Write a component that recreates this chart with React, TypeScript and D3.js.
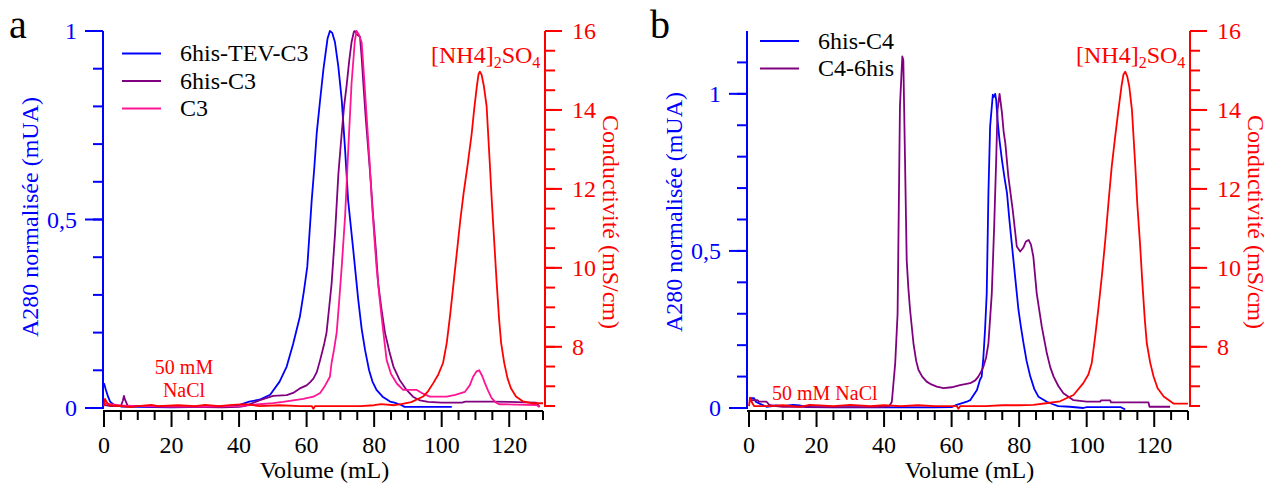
import React, { useEffect } from 'react';
import * as d3 from 'd3';

// ---------- DATA ----------
const volumeTicks = [0, 20, 40, 60, 80, 100, 120];
const condTicks = [8, 10, 12, 14, 16];
const absTickLabels = ['0', '0,5', '1'];
const absTicks = [0, 0.5, 1];

// Panel a : [volume mL, normalized A280]
const aTevC3: [number, number][] = [
  [0, 0.066], [0.5, 0.05], [1.2, 0.03], [1.8, 0.017], [3, 0.008], [5, 0.004], [10, 0.003], [20, 0.002],
  [30, 0.003], [38, 0.004], [40, 0.008], [43, 0.017], [46, 0.022], [49.2, 0.035], [52, 0.07], [54.1, 0.11],
  [56, 0.17], [58, 0.242], [59.2, 0.31], [60.2, 0.375], [61.5, 0.55], [62.3, 0.64], [63, 0.73], [64, 0.817],
  [65, 0.9], [66.2, 0.98], [66.9, 1.0], [67.6, 0.995], [68.4, 0.97], [69.4, 0.905], [70.4, 0.817],
  [71.4, 0.684], [72.3, 0.55], [73.8, 0.42], [75.3, 0.286], [76.3, 0.21], [77.3, 0.154], [78.5, 0.1],
  [79.5, 0.07], [80.7, 0.048], [82.5, 0.03], [84.7, 0.017], [86, 0.014], [88, 0.008], [89, 0.003],
  [95, 0.003], [103, 0.003],
];
const aHisC3: [number, number][] = [
  [0, 0.008], [2, 0.005], [5, 0.005], [5.6, 0.02], [5.9, 0.032], [6.3, 0.02], [7, 0.006], [15, 0.004],
  [25, 0.003], [35, 0.002], [40, 0.003], [42, 0.006], [46.2, 0.021], [50.1, 0.032], [54.1, 0.034],
  [56, 0.04], [58, 0.052], [60, 0.06], [61, 0.068], [62, 0.078], [63, 0.095], [64, 0.127], [65.2, 0.17],
  [65.9, 0.2], [66.6, 0.26], [67.4, 0.33], [68.4, 0.46], [69.4, 0.62], [70.4, 0.73], [71.1, 0.8],
  [71.9, 0.86], [72.6, 0.92], [73.3, 0.97], [74, 0.998], [74.3, 1.0], [75, 0.99], [75.8, 0.985],
  [76.3, 0.93], [76.8, 0.86], [77.5, 0.77], [78.3, 0.68], [79, 0.6], [79.7, 0.51], [80.5, 0.42],
  [81.2, 0.33], [82.2, 0.26], [83.2, 0.2], [84.5, 0.15], [85.7, 0.11], [87.5, 0.075], [89.6, 0.048],
  [91.5, 0.03], [93.6, 0.02], [96, 0.016], [100, 0.014], [106, 0.014], [107, 0.017], [115, 0.017],
  [120, 0.016], [125, 0.015], [128, 0.014], [129, 0.003],
];
const aC3: [number, number][] = [
  [0, 0.012], [2, 0.01], [5, 0.007], [10, 0.005], [20, 0.004], [30, 0.004], [40, 0.005], [46, 0.01],
  [50, 0.013], [53, 0.016], [56, 0.02], [59, 0.024], [62, 0.03], [64, 0.04], [65.5, 0.06], [66.9, 0.083],
  [67.4, 0.12], [68.1, 0.154], [68.9, 0.2], [69.7, 0.29], [70.4, 0.375], [71.4, 0.51], [72.3, 0.68],
  [73.3, 0.86], [74.3, 0.976], [74.8, 1.0], [75.5, 0.99], [76.3, 0.97], [77, 0.88], [77.8, 0.77],
  [78.6, 0.66], [79.3, 0.55], [80, 0.46], [80.7, 0.375], [81.5, 0.3], [82.2, 0.242], [83, 0.18],
  [83.7, 0.127], [85, 0.09], [86.7, 0.065], [88.6, 0.048], [92.6, 0.048], [94.5, 0.038], [96.5, 0.03],
  [101.5, 0.03], [104, 0.035], [106.9, 0.043], [108.3, 0.06], [109.3, 0.083], [110.3, 0.097],
  [111.1, 0.1], [112, 0.085], [112.8, 0.066], [113.8, 0.045], [114.8, 0.026], [116, 0.015], [117, 0.01],
  [122, 0.009], [128, 0.008], [129, 0.003],
];
// Panel a : [volume mL, conductivity mS/cm]
const aCond: [number, number][] = [
  [0, 6.5], [0.3, 6.68], [0.8, 6.6], [1.5, 6.52], [5, 6.5], [8, 6.47], [10, 6.5], [14, 6.53], [16, 6.5],
  [22, 6.52], [27, 6.5], [30, 6.53], [34, 6.5], [38, 6.53], [42, 6.55], [46, 6.5], [52, 6.52], [58, 6.5],
  [61.5, 6.5], [62, 6.43], [62.5, 6.5], [70, 6.5], [76, 6.5], [80, 6.52], [82, 6.55], [86, 6.52],
  [88, 6.55], [91, 6.6], [94.5, 6.74], [96, 6.88], [97.5, 7.08], [99, 7.3], [100.4, 7.59], [101.5, 8.1],
  [102.5, 8.8], [103.5, 9.6], [104.5, 10.4], [105.5, 11.2], [106.5, 11.9], [107.6, 12.56], [108.9, 13.41],
  [109.6, 14.0], [110.4, 14.59], [110.9, 14.9], [111.3, 14.97], [111.8, 14.9], [112.5, 14.6],
  [113.3, 14.1], [114.3, 12.56], [114.9, 11.6], [115.6, 10.6], [116.3, 9.6], [117, 8.7], [117.6, 8.1],
  [118.5, 7.6], [119.5, 7.2], [120.5, 6.95], [122, 6.74], [124, 6.62], [127, 6.57], [130, 6.57],
];

// Panel b
const bHisC4: [number, number][] = [
  [0, 0.031], [1.5, 0.031], [2, 0.02], [3.3, 0.013], [5.2, 0.004], [8, 0.008], [10, 0.006], [13, 0.01],
  [15, 0.008], [17, 0.003], [25, 0.002], [35, 0.002], [42, 0.002], [45, 0.003], [50, 0.002], [55, 0.002],
  [60, 0.003], [61.5, 0.01], [64.5, 0.02], [65.5, 0.025], [67.5, 0.057], [68.4, 0.09], [68.9, 0.1],
  [69.4, 0.16], [69.9, 0.25], [70.4, 0.365], [70.9, 0.684], [71.4, 0.896], [72.2, 0.997], [72.5, 0.99],
  [72.9, 1.0], [73.2, 0.98], [73.6, 0.917], [74.2, 0.85], [74.9, 0.79], [75.7, 0.73], [76.4, 0.684],
  [77.1, 0.6], [77.8, 0.525], [78.8, 0.418], [79.8, 0.312], [80.5, 0.26], [81.3, 0.206], [82.2, 0.15],
  [83.3, 0.1], [84.5, 0.06], [85.7, 0.036], [88.2, 0.02], [90, 0.012], [91.6, 0.006], [95, 0.004],
  [99, 0.0], [100, 0.003], [105, 0.003], [110, 0.003], [111.4, -0.005],
];
const bC4His: [number, number][] = [
  [0, 0.025], [2.5, 0.025], [3, 0.02], [5.2, 0.02], [6, 0.01], [8, 0.006], [10, 0.004], [15, 0.004],
  [20, 0.003], [30, 0.003], [38, 0.003], [41.5, 0.005], [42.3, 0.02], [43.3, 0.143], [44, 0.3],
  [44.7, 0.96], [45.4, 1.119], [45.7, 1.108], [46.2, 0.79], [46.7, 0.47], [47.2, 0.38], [47.7, 0.312],
  [48.7, 0.206], [49.5, 0.15], [50.2, 0.121], [51.3, 0.1], [52.6, 0.084], [54, 0.075], [55.6, 0.068],
  [57.6, 0.063], [60, 0.066], [62.5, 0.073], [65.5, 0.079], [67, 0.088], [67.9, 0.1], [68.7, 0.115],
  [69.4, 0.131], [70.2, 0.16], [70.9, 0.206], [71.9, 0.365], [72.6, 0.577], [73.2, 0.79], [73.6, 0.95],
  [74.2, 1.0], [74.9, 0.94], [75.4, 0.88], [75.9, 0.843], [76.8, 0.737], [78.1, 0.63], [79.3, 0.514],
  [80.3, 0.498], [81.2, 0.51], [82, 0.53], [82.8, 0.535], [83.5, 0.52], [84.2, 0.482], [85.2, 0.365],
  [86.7, 0.259], [88.2, 0.174], [89.2, 0.13], [90.2, 0.1], [91.6, 0.07], [93.1, 0.047], [96.1, 0.025],
  [100, 0.02], [104, 0.02], [104.2, 0.024], [107, 0.024], [107.2, 0.018], [118.3, 0.018], [118.6, 0.004],
  [124.7, 0.004],
];
const bCond: [number, number][] = [
  [0, 6.5], [0.3, 6.71], [0.8, 6.6], [1.5, 6.5], [6, 6.5], [10, 6.52], [15, 6.48], [18, 6.53], [25, 6.5],
  [30, 6.53], [36, 6.5], [40, 6.52], [45, 6.5], [50, 6.52], [55, 6.5], [61.5, 6.5], [62, 6.43],
  [62.6, 6.5], [70, 6.5], [75, 6.52], [80, 6.52], [84.2, 6.53], [88, 6.57], [92.1, 6.62], [96.1, 6.78],
  [99, 7.08], [100.5, 7.3], [101.5, 7.59], [102.5, 8.26], [103.5, 9.0], [104.5, 9.8], [105.5, 10.7],
  [106.5, 11.7], [107.4, 12.56], [108.4, 13.3], [109.4, 14.0], [110.3, 14.6], [110.9, 14.9],
  [111.4, 14.97], [112, 14.85], [112.6, 14.6], [113.4, 14.0], [114.4, 12.56], [115, 11.6], [115.8, 10.6],
  [116.5, 9.6], [117.2, 8.7], [117.8, 8.09], [118.8, 7.6], [119.8, 7.25], [121, 6.95], [122.8, 6.74],
  [125.8, 6.56], [130, 6.56],
];

const aNames = ['6his-TEV-C3', '6his-C3', 'C3'];
const bNames = ['6his-C4', 'C4-6his'];

// ---------- STYLE ----------
const BLUE = '#0000ff';
const PURPLE = '#800080';
const PINK = '#ff1493';
const RED = '#ff0000';
const FONT = '"Liberation Serif", "Times New Roman", serif';

type Series = { name: string; data: [number, number][]; color: string };

interface PanelProps {
  letter: string;
  x0: number; // pixel of volume 0
  leftAxisX: number;
  absMax: number;
  absMinorMax: number;
  series: Series[];
  cond: [number, number][];
  legendX: number;
  legendY: number;
  titleY: number;
  nacl: React.ReactNode;
}

const Y_TOP = 31;
const Y_BOT = 408;
const X_AXIS_Y = 411;

function Panel(p: PanelProps) {
  const xs = d3.scaleLinear().domain([0, 130]).range([p.x0, p.x0 + 439]);
  const ya = d3.scaleLinear().domain([0, p.absMax]).range([Y_BOT, Y_TOP]);
  const yc = d3.scaleLinear().domain([6.45, 16]).range([Y_BOT, Y_TOP]);
  const xEnd = xs(130);
  const rightX = xEnd + 2;
  const lineA = d3.line<[number, number]>().x((d) => xs(d[0])).y((d) => ya(d[1]));
  const lineC = d3.line<[number, number]>().x((d) => xs(d[0])).y((d) => yc(d[1]));
  const minorX = d3.range(0, 131, 5);
  const minorA = d3.range(0, Math.round(p.absMinorMax * 10) + 1).map((i) => i / 10);
  const minorC = d3.range(13, 33).map((i) => i / 2);
  const L = p.leftAxisX;
  return (
    <g fontFamily={FONT}>
      <text x={p.letter === 'a' ? 9 : 650} y={38} fontSize={40} fill="#000">{p.letter}</text>
      {/* x axis */}
      <line x1={L} x2={xEnd} y1={X_AXIS_Y} y2={X_AXIS_Y} stroke="#000" strokeWidth={2} />
      {minorX.map((v) => (
        <line key={'mx' + v} x1={xs(v)} x2={xs(v)} y1={X_AXIS_Y} y2={X_AXIS_Y + (v % 20 === 0 ? 16 : 9)} stroke="#000" strokeWidth={2} />
      ))}
      {volumeTicks.map((v) => (
        <text key={'tx' + v} x={xs(v)} y={453} fontSize={24} textAnchor="middle" fill="#000">{v}</text>
      ))}
      <text x={xs(65) + 1} y={478} fontSize={24} textAnchor="middle" fill="#000">Volume (mL)</text>
      {/* left axis */}
      <line x1={L} x2={L} y1={Y_TOP} y2={Y_BOT + 1} stroke={BLUE} strokeWidth={2} />
      {minorA.map((v) => (
        <line key={'ma' + v} x1={L - 10} x2={L} y1={ya(v)} y2={ya(v)} stroke={BLUE} strokeWidth={2} />
      ))}
      {absTicks.map((v, i) => (
        <g key={'ta' + v}>
          <line x1={L - 18} x2={L} y1={ya(v)} y2={ya(v)} stroke={BLUE} strokeWidth={2} />
          <text x={L - 26} y={ya(v)} dy="0.35em" fontSize={24} textAnchor="end" fill={BLUE}>{absTickLabels[i]}</text>
        </g>
      ))}
      <text transform={`translate(${L - 65},${p.titleY}) rotate(-90)`} fontSize={24} textAnchor="middle" fill={BLUE}>
        A280 normalisée (mUA)
      </text>
      {/* right axis */}
      <line x1={rightX} x2={rightX} y1={Y_TOP} y2={Y_BOT - 1} stroke={RED} strokeWidth={2} />
      {minorC.map((v) => (
        <line key={'mc' + v} x1={rightX} x2={rightX + 10} y1={yc(v)} y2={yc(v)} stroke={RED} strokeWidth={2} />
      ))}
      {condTicks.map((v) => (
        <g key={'tc' + v}>
          <line x1={rightX} x2={rightX + 17} y1={yc(v)} y2={yc(v)} stroke={RED} strokeWidth={2} />
          <text x={rightX + 27} y={yc(v)} dy="0.35em" fontSize={24} fill={RED}>{v}</text>
        </g>
      ))}
      <text transform={`translate(${rightX + 58},222) rotate(90)`} fontSize={24} textAnchor="middle" fill={RED}>
        Conductivité (mS/cm)
      </text>
      {/* curves */}
      {p.series.map((s) => (
        <path key={s.name} d={lineA(s.data) || ''} fill="none" stroke={s.color} strokeWidth={1.8} strokeLinejoin="round" />
      ))}
      <path d={lineC(p.cond) || ''} fill="none" stroke={RED} strokeWidth={1.8} strokeLinejoin="round" />
      {/* legend */}
      {p.series.map((s, i) => (
        <g key={'lg' + s.name}>
          <line x1={p.legendX} x2={p.legendX + 39} y1={p.legendY + i * 27.5} y2={p.legendY + i * 27.5} stroke={s.color} strokeWidth={2} />
          <text x={p.legendX + 58} y={p.legendY + i * 27.5} dy="0.33em" fontSize={24} fill="#000">{s.name}</text>
        </g>
      ))}
      {/* annotations */}
      <text x={rightX - 114} y={63} fontSize={24} fill={RED}>
        <tspan>[NH4]</tspan>
        <tspan fontSize={16} dy={5}>2</tspan>
        <tspan dy={-5}>SO</tspan>
        <tspan fontSize={16} dy={5}>4</tspan>
      </text>
      {p.nacl}
    </g>
  );
}

export default function App() {
  useEffect(() => {
    document.body.style.margin = '0';
  }, []);
  return (
    <svg width={1274} height={489} style={{ display: 'block', background: '#fff' }}>
      <rect width={1274} height={489} fill="#fff" />
      <Panel
        letter="a"
        x0={104}
        leftAxisX={103}
        absMax={1}
        absMinorMax={1}
        series={[
          { name: aNames[0], data: aTevC3, color: BLUE },
          { name: aNames[1], data: aHisC3, color: PURPLE },
          { name: aNames[2], data: aC3, color: PINK },
        ]}
        cond={aCond}
        legendX={122}
        legendY={53.5}
        titleY={217}
        nacl={
          <g fill={RED} fontSize={20} textAnchor="middle">
            <text x={184} y={374}>50 mM</text>
            <text x={184} y={397}>NaCl</text>
          </g>
        }
      />
      <Panel
        letter="b"
        x0={749}
        leftAxisX={747}
        absMax={1.2}
        absMinorMax={1.1}
        series={[
          { name: bNames[0], data: bHisC4, color: BLUE },
          { name: bNames[1], data: bC4His, color: PURPLE },
        ]}
        cond={bCond}
        legendX={760}
        legendY={41}
        titleY={212}
        nacl={
          <text x={772} y={400} fill={RED} fontSize={20}>50 mM NaCl</text>
        }
      />
    </svg>
  );
}
